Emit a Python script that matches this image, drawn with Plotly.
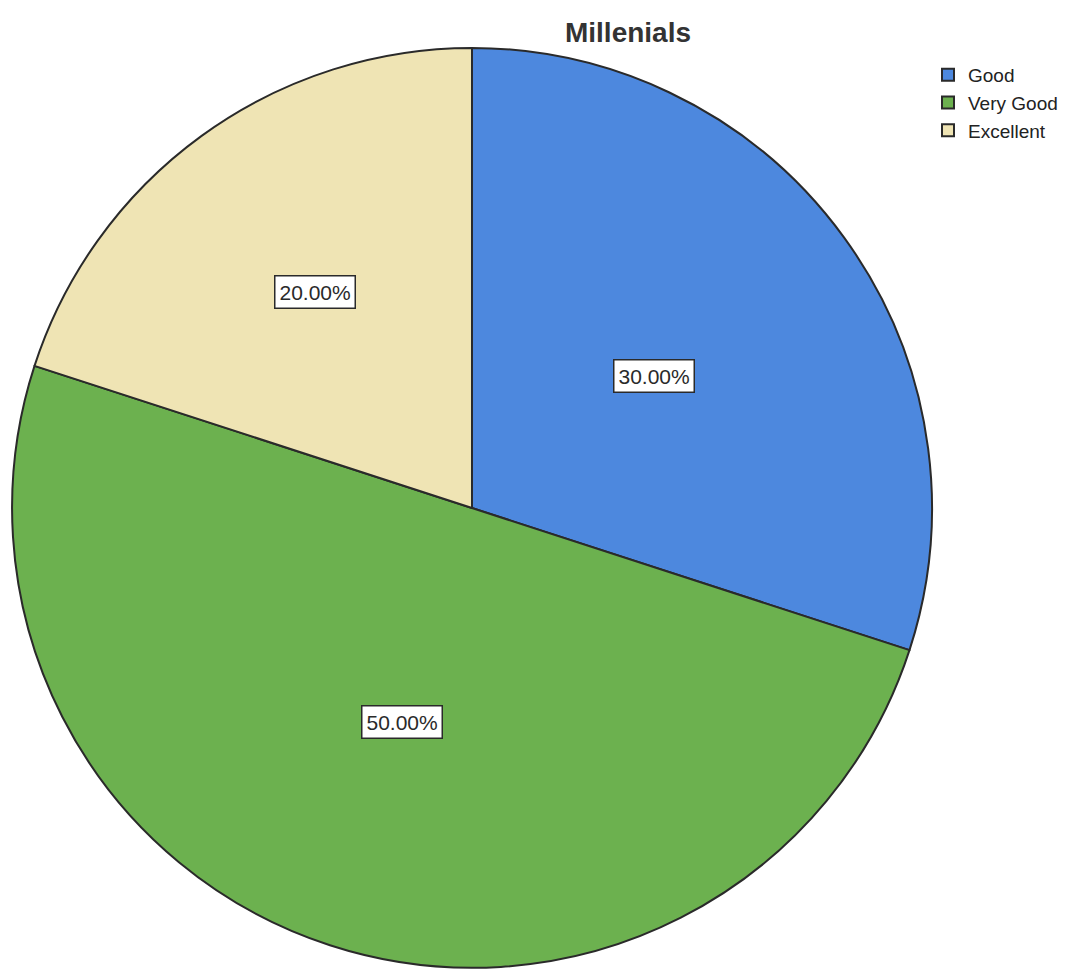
import math
import plotly.graph_objects as go

# Data
labels = ["Good", "Very Good", "Excellent"]
values = [30.0, 50.0, 20.0]
colors = ["#4d88de", "#6cb14f", "#efe4b4"]

W, H = 1083, 969
OFF = 8  # page body margin in the browser


def px_x(p):
    return (p - OFF) / W


def px_y(p):
    return 1 - (p - OFF) / H


# Pie placement (page pixels): circle centred near (472, 508), radius 460
cx, cy, r = 472, 508, 460

fig = go.Figure(
    data=[
        go.Pie(
            labels=labels,
            values=values,
            sort=False,
            direction="clockwise",
            rotation=0,
            marker=dict(colors=colors, line=dict(color="#2a2a2a", width=2)),
            textinfo="none",
            hoverinfo="label+percent",
            domain=dict(x=[px_x(cx - r), px_x(cx + r)], y=[px_y(cy + r), px_y(cy - r)]),
        )
    ]
)

# Boxed percentage labels, placed at each slice's mid angle
label_radius = [0.49, 0.49, 0.58]
total = sum(values)
start = 0.0
for val, frac in zip(values, label_radius):
    mid = (start + val / 2) / total * 2 * math.pi
    start += val
    lx = cx + frac * r * math.sin(mid)
    ly = cy - frac * r * math.cos(mid)
    fig.add_annotation(
        x=px_x(lx),
        y=px_y(ly),
        xref="paper",
        yref="paper",
        xanchor="center",
        yanchor="middle",
        text=f"{val / total * 100:.2f}%",
        showarrow=False,
        font=dict(family="Liberation Sans, Arial", size=21, color="#2a2a2a"),
        bgcolor="white",
        bordercolor="#2a2a2a",
        borderwidth=1.5,
        borderpad=4,
    )

fig.update_layout(
    width=W,
    height=H,
    margin=dict(l=0, r=0, t=0, b=0),
    paper_bgcolor="white",
    plot_bgcolor="white",
    title=dict(
        text="<b>Millenials</b>",
        x=px_x(628),
        xanchor="center",
        y=px_y(32),
        yanchor="middle",
        font=dict(family="Liberation Sans, Arial", size=28, color="#333"),
    ),
    legend=dict(
        x=px_x(928),
        y=px_y(56),
        xanchor="left",
        yanchor="top",
        font=dict(family="Liberation Sans, Arial", size=19, color="#222"),
        itemwidth=30,
        tracegroupgap=0,
        bgcolor="rgba(0,0,0,0)",
    ),
)

fig.write_html("out.html")
